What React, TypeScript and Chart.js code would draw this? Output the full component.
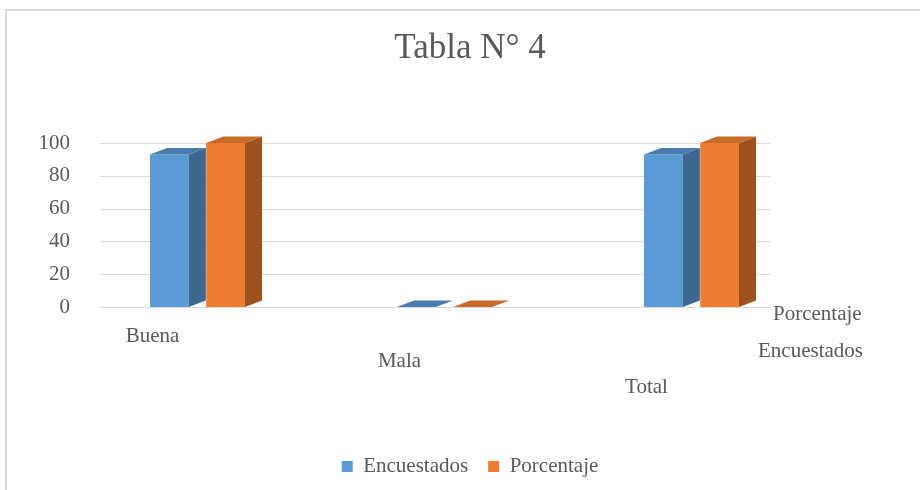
import React, { useEffect, useRef } from "react";
import { Chart, registerables } from "chart.js";

Chart.register(...registerables);

const categories = ["Buena", "Mala", "Total"];
const seriesNames = ["Encuestados", "Porcentaje"];
const encuestados = [93, 0, 93];
const porcentaje = [100, 0, 100];
const yMin = 0;
const yMax = 100;
const yStep = 20;
const titleText = "Tabla N° 4";

const FONT = "'Liberation Serif', 'Times New Roman', serif";
const TEXT = "#595959";
const GRID = "#D9D9D9";
const FRONT = ["#5B9BD5", "#ED7D31"];
const SIDE = ["#3B6791", "#9E5220"];
const TOP = ["#4A7BAF", "#C76A2A"];

const wallGrid = {
  id: "wallGrid",
  beforeDatasetsDraw(chart: any) {
    const ctx = chart.ctx;
    const a = chart.chartArea;
    const w = a.right - a.left;
    const y = chart.scales.y;
    ctx.save();
    ctx.strokeStyle = GRID;
    ctx.lineWidth = 1;
    y.ticks.forEach((t: any) => {
      const py = Math.round(y.getPixelForValue(t.value)) + 0.5;
      ctx.beginPath();
      ctx.moveTo(a.left + w * 0.035, py);
      ctx.lineTo(a.left + w * 0.94, py);
      ctx.stroke();
    });
    ctx.restore();
  },
};

const bars3d = {
  id: "bars3d",
  afterDatasetsDraw(chart: any) {
    const ctx = chart.ctx;
    chart.data.datasets.forEach((_ds: any, di: number) => {
      const meta = chart.getDatasetMeta(di);
      if (meta.hidden) return;
      meta.data.forEach((bar: any) => {
        const { x, y, base, width } = bar.getProps(["x", "y", "base", "width"], true);
        const left = x - width / 2;
        const right = x + width / 2;
        const dx = width * 0.44;
        const dy = width * 0.17;
        ctx.save();
        ctx.fillStyle = SIDE[di];
        ctx.beginPath();
        ctx.moveTo(right, y);
        ctx.lineTo(right + dx, y - dy);
        ctx.lineTo(right + dx, base - dy);
        ctx.lineTo(right, base);
        ctx.closePath();
        ctx.fill();
        ctx.fillStyle = TOP[di];
        ctx.beginPath();
        ctx.moveTo(left, y);
        ctx.lineTo(left + dx, y - dy);
        ctx.lineTo(right + dx, y - dy);
        ctx.lineTo(right, y);
        ctx.closePath();
        ctx.fill();
        ctx.restore();
      });
    });
  },
};

const seriesAxis = {
  id: "seriesAxis",
  afterDraw(chart: any) {
    const ctx = chart.ctx;
    const a = chart.chartArea;
    ctx.save();
    ctx.font = `21px ${FONT}`;
    ctx.fillStyle = TEXT;
    ctx.textBaseline = "middle";
    ctx.textAlign = "left";
    ctx.fillText(seriesNames[1], a.right - 42, a.bottom + 7);
    ctx.fillText(seriesNames[0], a.right - 57, a.bottom + 44);
    ctx.restore();
  },
};

export default function App() {
  const ref = useRef<HTMLCanvasElement | null>(null);

  useEffect(() => {
    if (!ref.current) return;
    const chart = new Chart(ref.current, {
      type: "bar",
      data: {
        labels: categories,
        datasets: [
          {
            label: seriesNames[0],
            data: encuestados,
            backgroundColor: FRONT[0],
            borderWidth: 0,
            categoryPercentage: 0.455,
            barPercentage: 0.69,
          },
          {
            label: seriesNames[1],
            data: porcentaje,
            backgroundColor: FRONT[1],
            borderWidth: 0,
            categoryPercentage: 0.455,
            barPercentage: 0.69,
          },
        ],
      },
      options: {
        animation: false,
        responsive: false,
        maintainAspectRatio: false,
        layout: { padding: { left: 0, right: 0, top: 0, bottom: 2 } },
        plugins: {
          title: {
            display: true,
            text: titleText,
            color: TEXT,
            font: { family: FONT, size: 35, weight: "normal" },
            padding: { top: 17, bottom: 73 },
          },
          legend: {
            position: "bottom",
            labels: {
              color: TEXT,
              font: { family: FONT, size: 21 },
              boxWidth: 11,
              boxHeight: 11,
              padding: 20,
            },
          },
          tooltip: { enabled: false },
        },
        scales: {
          x: {
            grid: { display: false, drawTicks: false },
            border: { display: false },
            afterFit: (s: any) => {
              s.height = 129;
            },
            ticks: {
              color: TEXT,
              font: { family: FONT, size: 21, lineHeight: 1.2 },
              padding: 17,
              labelOffset: -45,
              maxRotation: 0,
              callback: (_v: any, i: number) => {
                const lines: string[] = [];
                for (let k = 0; k < i; k++) lines.push("");
                lines.push(categories[i]);
                return lines;
              },
            },
          },
          y: {
            position: "left",
            min: yMin,
            max: yMax,
            afterFit: (s: any) => {
              s.width = 67;
            },
            ticks: { stepSize: yStep, color: TEXT, font: { family: FONT, size: 21 }, padding: 4 },
            grid: { display: false, drawTicks: false },
            border: { display: false },
          },
          yRight: {
            position: "right",
            min: yMin,
            max: yMax,
            afterFit: (s: any) => {
              s.width = 118;
            },
            ticks: { display: false },
            grid: { display: false, drawTicks: false },
            border: { display: false },
          },
        },
      },
      plugins: [wallGrid, bars3d, seriesAxis],
    });
    return () => chart.destroy();
  }, []);

  return (
    <div
      style={{
        position: "fixed",
        left: 5,
        top: 9,
        width: 940,
        height: 500,
        border: "2px solid #D9D9D9",
        background: "#fff",
        overflow: "hidden",
      }}
    >
      <canvas ref={ref} width={926} height={478} style={{ display: "block" }} />
    </div>
  );
}
